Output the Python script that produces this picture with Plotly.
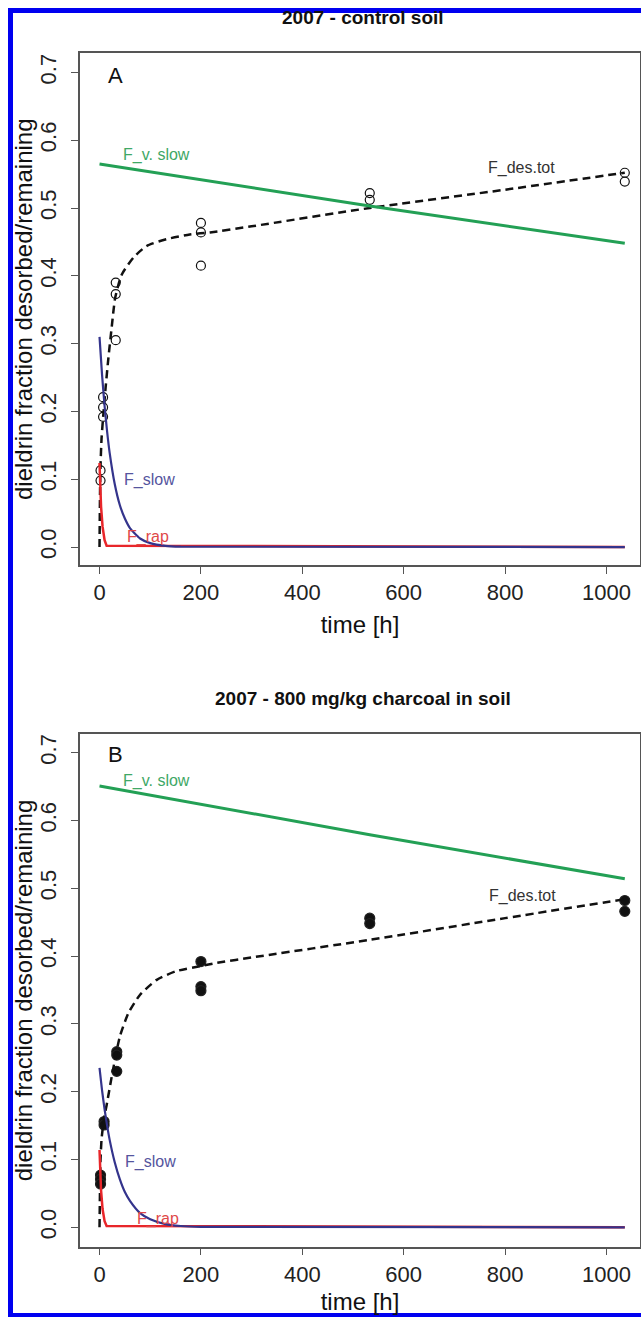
import plotly.graph_objects as go

# ---------------- data ----------------
# Panel A: 2007 - control soil
tA_obs = [2, 2, 7, 7, 7, 32, 32, 32, 200, 200, 200, 533, 533, 1036, 1036]
yA_obs = [0.113, 0.098, 0.221, 0.206, 0.192, 0.390, 0.373, 0.305,
          0.478, 0.464, 0.415, 0.522, 0.512, 0.552, 0.539]

tA_des = [0, 1, 2, 4, 7.5, 12, 17, 24, 31, 44, 67, 93, 132, 178, 218, 300, 533, 800, 1036]
yA_des = [0, 0.08, 0.12, 0.16, 0.195, 0.235, 0.275, 0.324, 0.368, 0.402, 0.427,
          0.444, 0.454, 0.461, 0.464, 0.473, 0.500, 0.527, 0.552]

tA_vslow = [0, 533, 1036]
yA_vslow = [0.565, 0.503, 0.448]

tA_slow = [0, 5, 10, 15, 20, 30, 40, 50, 60, 80, 100, 130, 160, 1036]
yA_slow = [0.310, 0.254, 0.208, 0.170, 0.139, 0.093, 0.062, 0.042, 0.028,
           0.0126, 0.0057, 0.0017, 0.0005, 0.0]

tA_rap = [0, 1, 3, 6, 10, 14, 1036]
yA_rap = [0.124, 0.100, 0.060, 0.030, 0.010, 0.002, 0.0]

# Panel B: 2007 - 800 mg/kg charcoal in soil
tB_obs = [2, 2, 2, 9, 9, 34, 34, 34, 200, 200, 200, 533, 533, 1036, 1036]
yB_obs = [0.077, 0.071, 0.064, 0.156, 0.151, 0.259, 0.254, 0.230,
          0.392, 0.355, 0.349, 0.456, 0.448, 0.482, 0.466]

tB_des = [0, 1, 2, 4, 7, 10, 14, 24, 40, 57, 80, 113, 152, 198, 231, 300, 533, 800, 1036]
yB_des = [0, 0.06, 0.10, 0.13, 0.15, 0.165, 0.18, 0.222, 0.281, 0.316, 0.343,
          0.365, 0.378, 0.385, 0.390, 0.398, 0.424, 0.456, 0.484]

tB_vslow = [0, 533, 1036]
yB_vslow = [0.651, 0.579, 0.514]

tB_slow = [0, 5, 10, 15, 20, 30, 40, 50, 60, 80, 100, 130, 160, 200, 1036]
yB_slow = [0.235, 0.202, 0.174, 0.150, 0.129, 0.096, 0.071, 0.052, 0.039,
           0.021, 0.012, 0.0048, 0.0019, 0.0006, 0.0]

tB_rap = [0, 1, 3, 6, 10, 14, 1036]
yB_rap = [0.114, 0.090, 0.055, 0.027, 0.009, 0.002, 0.0]

x_ticks = [0, 200, 400, 600, 800, 1000]
y_ticks = [0.0, 0.1, 0.2, 0.3, 0.4, 0.5, 0.6, 0.7]

titles = ["2007 - control soil", "2007 - 800 mg/kg charcoal in soil"]
panel_letters = ["A", "B"]
x_title = "time [h]"
y_title = "dieldrin fraction desorbed/remaining"

# ---------------- styles ----------------
FONT = "Liberation Sans, Arial, Helvetica, sans-serif"
GREEN = "#23a055"
BLUE = "#34348c"
RED = "#e8262a"
AXC = "#555555"
W, H = 641, 1317

fig = go.Figure()

def add_panel(xa, ya, t_obs, y_obs, filled, t_des, y_des, t_vs, y_vs, t_s, y_s, t_r, y_r):
    fig.add_trace(go.Scatter(x=t_obs, y=y_obs, mode="markers", xaxis=xa, yaxis=ya,
                             marker=dict(symbol="circle" if filled else "circle-open",
                                         size=10 if filled else 9, color="#111111",
                                         line=dict(width=1.2, color="#222222")),
                             showlegend=False))
    fig.add_trace(go.Scatter(x=t_des, y=y_des, mode="lines", xaxis=xa, yaxis=ya,
                             line=dict(color="#111111", width=2.5, dash="8px,5px",
                                       shape="spline", smoothing=0.6),
                             showlegend=False))
    fig.add_trace(go.Scatter(x=t_vs, y=y_vs, mode="lines", xaxis=xa, yaxis=ya,
                             line=dict(color=GREEN, width=3), showlegend=False))
    fig.add_trace(go.Scatter(x=t_r, y=y_r, mode="lines", xaxis=xa, yaxis=ya,
                             line=dict(color=RED, width=2.5), showlegend=False))
    fig.add_trace(go.Scatter(x=t_s, y=y_s, mode="lines", xaxis=xa, yaxis=ya,
                             line=dict(color=BLUE, width=2.2, shape="spline", smoothing=0.6),
                             showlegend=False))

add_panel("x", "y", tA_obs, yA_obs, False, tA_des, yA_des, tA_vslow, yA_vslow,
          tA_slow, yA_slow, tA_rap, yA_rap)
add_panel("x2", "y2", tB_obs, yB_obs, True, tB_des, yB_des, tB_vslow, yB_vslow,
          tB_slow, yB_slow, tB_rap, yB_rap)

xdom = [80 / W, 640 / W]
ydomA = [1 - 565 / H, 1 - 53 / H]
ydomB = [1 - 1246.5 / H, 1 - 734 / H]

def xaxis(anchor, standoff):
    return dict(domain=xdom, anchor=anchor, range=[-38.5, 1066],
                tickvals=x_ticks, ticks="outside", ticklen=7, tickwidth=1.2, tickcolor=AXC,
                showline=True, linecolor=AXC, linewidth=1.5, mirror=True,
                showgrid=False, zeroline=False,
                tickfont=dict(family=FONT, size=22, color="#222222"),
                title=dict(text=x_title, font=dict(family=FONT, size=24, color="#111111"),
                           standoff=standoff))

def yaxis(anchor, dom, rng):
    return dict(domain=dom, anchor=anchor, range=rng,
                tickvals=y_ticks, tickformat=".1f", tickangle=-90,
                ticks="outside", ticklen=7, tickwidth=1.2, tickcolor=AXC,
                ticklabelstandoff=6,
                showline=True, linecolor=AXC, linewidth=1.5, mirror=True,
                showgrid=False, zeroline=False,
                tickfont=dict(family=FONT, size=22, color="#222222"))

fig.update_layout(
    width=W, height=H, margin=dict(l=0, r=0, t=0, b=0),
    paper_bgcolor="white", plot_bgcolor="white",
    xaxis=xaxis("y", 12), yaxis=yaxis("x", ydomA, [-0.0265, 0.7286]),
    xaxis2=xaxis("y2", 8), yaxis2=yaxis("x2", ydomB, [-0.0283, 0.7276]),
)

ann = []
# panel titles
for title, ypx in zip(titles, [18, 698]):
    ann.append(dict(text="<b>" + title + "</b>", xref="paper", yref="paper",
                    x=363 / W, y=1 - ypx / H, xanchor="center", yanchor="middle",
                    showarrow=False, font=dict(family=FONT, size=19, color="#111111")))
# y-axis titles (centred on each plot area)
for dom in (ydomA, ydomB):
    ann.append(dict(text=y_title, xref="paper", yref="paper",
                    x=23 / W, y=(dom[0] + dom[1]) / 2, xanchor="center", yanchor="middle",
                    textangle=-90, showarrow=False,
                    font=dict(family=FONT, size=24, color="#111111")))
# panel letters
for letter, xr, yr, yv in zip(panel_letters, ["x", "x2"], ["y", "y2"], [0.695, 0.697]):
    ann.append(dict(text=letter, xref=xr, yref=yr, x=31, y=yv, showarrow=False,
                    font=dict(family=FONT, size=22, color="#111111")))
# curve labels
labels = [
    ("x", "y", 113, 0.578, "F_v. slow", "#3fa866"),
    ("x", "y", 832, 0.559, "F_des.tot", "#333333"),
    ("x", "y", 99, 0.099, "F_slow", "#55559e"),
    ("x", "y", 96, 0.015, "F_rap", "#e04848"),
    ("x2", "y2", 113, 0.658, "F_v. slow", "#3fa866"),
    ("x2", "y2", 834, 0.489, "F_des.tot", "#333333"),
    ("x2", "y2", 100, 0.097, "F_slow", "#55559e"),
    ("x2", "y2", 115, 0.013, "F_rap", "#e04848"),
]
for xr, yr, xv, yv, txt, col in labels:
    ann.append(dict(text=txt, xref=xr, yref=yr, x=xv, y=yv, showarrow=False,
                    xanchor="center", yanchor="middle",
                    font=dict(family=FONT, size=16, color=col)))
fig.update_layout(annotations=ann)

# blue frame of the figure (left, top, bottom)
BORDER = "#0000f0"
shapes = [
    dict(type="rect", xref="paper", yref="paper", x0=8 / W, x1=13 / W, y0=0, y1=1 - 8 / H,
         fillcolor=BORDER, line=dict(width=0), layer="above"),
    dict(type="rect", xref="paper", yref="paper", x0=8 / W, x1=1, y0=1 - 13 / H, y1=1 - 8 / H,
         fillcolor=BORDER, line=dict(width=0), layer="above"),
    dict(type="rect", xref="paper", yref="paper", x0=8 / W, x1=1, y0=0, y1=4 / H,
         fillcolor=BORDER, line=dict(width=0), layer="above"),
]
fig.update_layout(shapes=shapes)

fig.write_html("out.html", config={"displayModeBar": False},
               post_script="document.body.style.margin='0';document.body.style.overflow='hidden';")
